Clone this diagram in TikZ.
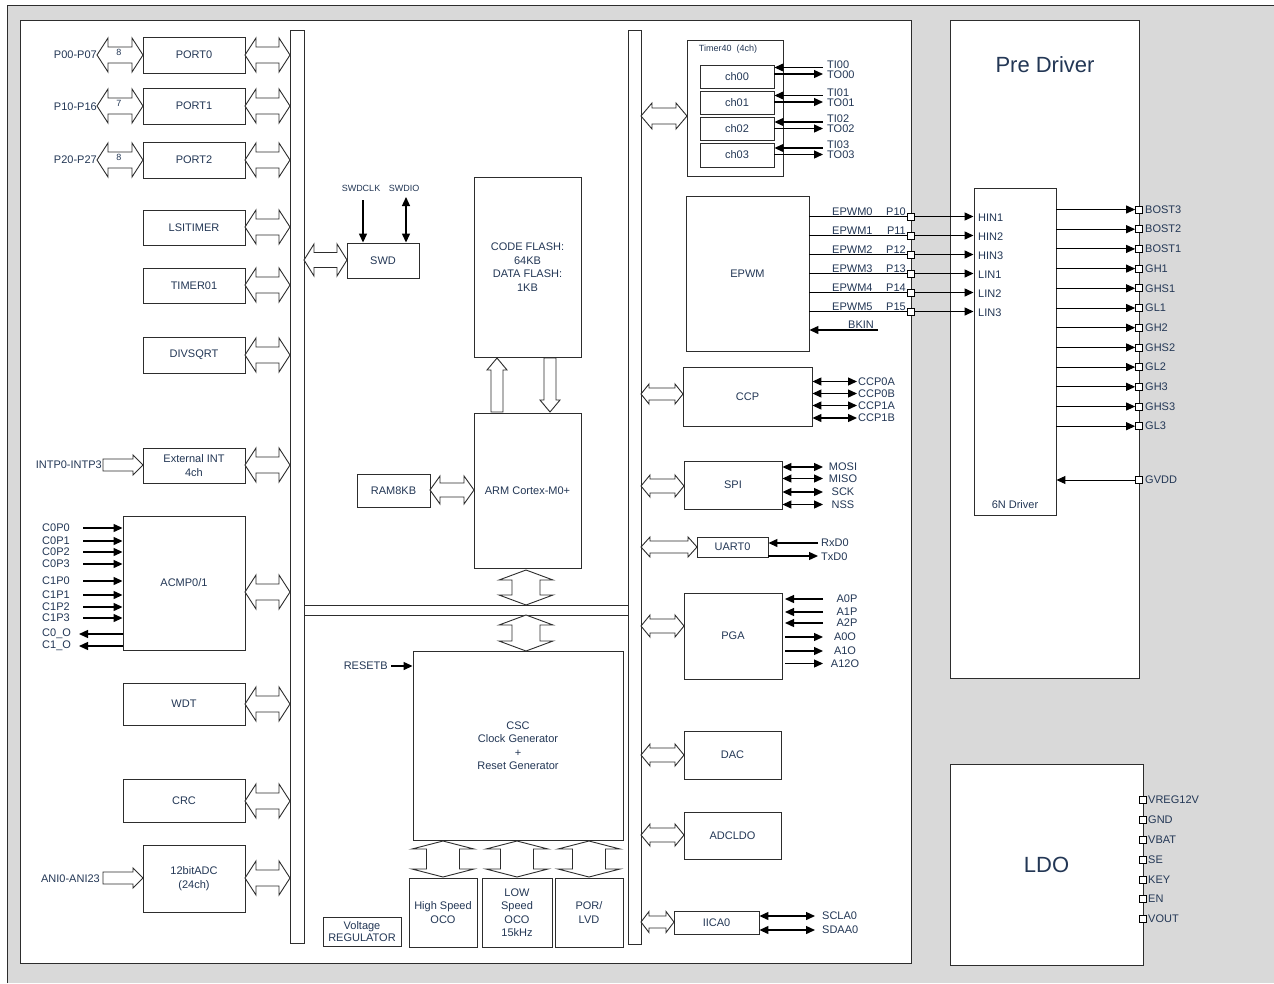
\documentclass[tikz,border=0pt]{standalone}
\usepackage{fontspec}
\setmainfont{Liberation Sans}
\usetikzlibrary{arrows.meta}
\definecolor{txt}{RGB}{35,55,85}
\definecolor{ln}{RGB}{45,45,45}
\definecolor{bgc}{RGB}{217,217,217}
\newcommand\fs[1]{\fontsize{#1}{#1}\selectfont}
\newcommand\bx[6]{\node[mbox,minimum width={(#4)-(#2)},minimum height={(#5)-(#3)}] (#1) at ({((#2)+(#4))/2},{((#3)+(#5))/2}) {#6};}
% horizontal double block arrow: x1 x2 y hh bh hl
\newcommand\hdbl[6]{\draw[blk] (#1,#3) -- ({(#1)+(#6)},{(#3)-(#4)}) -- ({(#1)+(#6)},{(#3)-(#5)}) -- ({(#2)-(#6)},{(#3)-(#5)}) -- ({(#2)-(#6)},{(#3)-(#4)}) -- (#2,#3) -- ({(#2)-(#6)},{(#3)+(#4)}) -- ({(#2)-(#6)},{(#3)+(#5)}) -- ({(#1)+(#6)},{(#3)+(#5)}) -- ({(#1)+(#6)},{(#3)+(#4)}) -- cycle;}
% vertical double block arrow: y1 y2 x hw bw hl
\newcommand\vdbl[6]{\draw[blk] (#3,#1) -- ({(#3)-(#4)},{(#1)+(#6)}) -- ({(#3)-(#5)},{(#1)+(#6)}) -- ({(#3)-(#5)},{(#2)-(#6)}) -- ({(#3)-(#4)},{(#2)-(#6)}) -- (#3,#2) -- ({(#3)+(#4)},{(#2)-(#6)}) -- ({(#3)+(#5)},{(#2)-(#6)}) -- ({(#3)+(#5)},{(#1)+(#6)}) -- ({(#3)+(#4)},{(#1)+(#6)}) -- cycle;}
% horizontal single block arrow (tail x1, tip x2): x1 x2 y hh bh hl
\newcommand\hsgl[6]{\draw[blk] (#1,{(#3)-(#5)}) -- ({(#2)-(#6)},{(#3)-(#5)}) -- ({(#2)-(#6)},{(#3)-(#4)}) -- (#2,#3) -- ({(#2)-(#6)},{(#3)+(#4)}) -- ({(#2)-(#6)},{(#3)+(#5)}) -- (#1,{(#3)+(#5)}) -- cycle;}
% vertical single block arrow: tail y1, tip y2, x, hw, bw, signed hl
\newcommand\vsgl[6]{\draw[blk] ({(#3)-(#5)},#1) -- ({(#3)-(#5)},{(#2)-(#6)}) -- ({(#3)-(#4)},{(#2)-(#6)}) -- (#3,#2) -- ({(#3)+(#4)},{(#2)-(#6)}) -- ({(#3)+(#5)},{(#2)-(#6)}) -- ({(#3)+(#5)},#1) -- cycle;}
\begin{document}
\begin{tikzpicture}[x=1pt,y=-1pt,
  >={Triangle[length=9pt,width=8pt]},
  mbox/.style={draw=ln,fill=white,line width=0.9pt,inner sep=0,align=center,text=txt,font=\fontsize{11}{13.5}\selectfont},
  blk/.style={draw=ln,fill=white,line width=0.9pt,line join=miter},
  lab/.style={text=txt,font=\fs{11},inner sep=0},
  slab/.style={text=txt,font=\fs{9},inner sep=0},
  sig/.style={draw=black,line width=1.3pt},
  tsig/.style={draw=black,line width=1pt},
  pinsq/.style={draw=black,fill=white,line width=0.7pt,minimum size=7pt,inner sep=0}]
\useasboundingbox (0,0) rectangle (1274,983);
% background
\fill[white] (0,0) rectangle (1274,983);
\fill[bgc] (7,5) rectangle (1274,983);
\draw[ln,line width=1pt] (7,983) -- (7,5) -- (1274,5);
% MCU frame
\node[mbox,minimum width=891,minimum height=943] (mcu) at (465.5,491.5) {};
% bus bars
\node[mbox,minimum width=14,minimum height=913] (lbar) at (297,486.5) {};
\node[mbox,minimum width=13,minimum height=914] (rbar) at (634.5,487) {};
\draw[ln,line width=0.9pt] (lbar.east |- 0,605) -- (rbar.west |- 0,605);
\draw[ln,line width=0.9pt] (lbar.east |- 0,615) -- (rbar.west |- 0,615);

% ---------- left column ----------
\bx{port0}{143}{37}{245}{73}{PORT0}
\bx{port1}{143}{88}{245}{124}{PORT1}
\bx{port2}{143}{142}{245}{178}{PORT2}
\bx{lsitimer}{143}{210}{245}{245}{LSITIMER}
\bx{timer01}{143}{268}{245}{303}{TIMER01}
\bx{divsqrt}{143}{337}{245}{373}{DIVSQRT}
\bx{extint}{143}{448}{245}{483}{External INT\\4ch}
\bx{acmp}{123}{516}{245}{650}{ACMP0/1}
\bx{wdt}{123}{683}{245}{725}{WDT}
\bx{crc}{123}{779}{245}{822}{CRC}
\bx{adc}{143}{845}{245}{912}{12bitADC\\(24ch)}
\foreach \y in {55,106,160,227,285,355,465,592,704,801,878} {\hdbl{245}{290}{\y}{17}{8}{11}}
% port pins
\hdbl{97}{143}{55}{17}{8}{11}
\hdbl{97}{143}{106}{17}{8}{11}
\hdbl{97}{143}{160}{17}{8}{11}
\node[slab] (n8a) at (119,52) {8};
\node[slab] (n7) at (119,103) {7};
\node[slab] (n8b) at (119,157) {8};
\node[lab,anchor=east] (p0) at (97,55) {P00-P07};
\node[lab,anchor=east] (p1) at (97,107) {P10-P16};
\node[lab,anchor=east] (p2) at (97,160) {P20-P27};
% external int / adc inputs
\hsgl{103}{143}{465}{10}{6}{10}
\node[lab,anchor=east] (intp) at (102,465) {INTP0-INTP3};
\hsgl{103}{143}{878}{10}{6}{10}
\node[lab,anchor=east] (ani) at (100,879) {ANI0-ANI23};
% ACMP pins
\foreach \t/\y in {C0P0/528,C0P1/541,C0P2/552,C0P3/564,C1P0/581,C1P1/595,C1P2/607,C1P3/618} {
  \node[lab,anchor=west] at (42,\y) {\t};
  \draw[sig,->] (83,\y) -- (acmp.west |- 0,\y);}
\foreach \t/\y in {C0\_O/634,C1\_O/646} {
  \node[lab,anchor=west] at (42,\y) {\t};
  \draw[sig,->] (acmp.west |- 0,\y) -- (79,\y);}

% ---------- core ----------
\bx{flash}{474}{177}{581}{357}{CODE FLASH:\\64KB\\DATA FLASH:\\1KB}
\bx{arm}{474}{413}{581}{568}{ARM Cortex-M0+}
\bx{ram}{357}{474}{430}{507}{RAM8KB}
\hdbl{430}{474}{490}{14}{7}{10}
\vsgl{412}{358}{497}{10}{6}{-12}
\vsgl{358}{412}{550}{10}{6}{12}
\bx{swd}{347}{243}{419}{278}{SWD}
\hdbl{304}{347}{260}{16}{7.5}{10}
\node[slab] (swdclk) at (361,188) {SWDCLK};
\node[slab] (swdio) at (404,188) {SWDIO};
\draw[sig,->] (363,200) -- (swd.north -| 363,0);
\draw[sig,<->] (406,197) -- (swd.north -| 406,0);
\vdbl{570}{605}{526}{27}{14}{10}
\vdbl{615}{651}{526}{27}{14}{10}
\bx{csc}{413}{651}{623}{840}{CSC\\Clock Generator\\+\\Reset Generator}
\node[lab,anchor=east] (resetb) at (388,666) {RESETB};
\draw[sig,->] (391,666) -- (csc.west |- 0,666);
\bx{hso}{409}{878}{477}{947}{High Speed\\OCO}
\bx{lso}{482}{878}{552}{947}{LOW\\Speed\\OCO\\15kHz}
\bx{por}{555}{878}{623}{947}{POR/\\LVD}
\vdbl{841}{877}{443}{31}{16.5}{8}
\vdbl{841}{877}{517}{31}{16.5}{8}
\vdbl{841}{877}{589}{31}{16.5}{8}
\node[mbox,minimum width=78,minimum height=29,font=\fontsize{11}{12}\selectfont] (vreg) at (362,931.5) {Voltage\\REGULATOR};

% ---------- right column ----------
\bx{t40}{687}{40}{783}{176}{}
\node[slab] (t40t) at (728,49) {Timer40\ \ (4ch)};
\bx{ch0}{700}{65}{774}{88}{ch00}
\bx{ch1}{700}{91}{774}{114}{ch01}
\bx{ch2}{700}{117}{774}{140}{ch02}
\bx{ch3}{700}{143}{774}{167}{ch03}
\hdbl{641}{687}{116}{13}{8}{11}
\foreach \k/\a/\b in {0/67.5/74,1/95.5/102,2/122/128.5,3/148/154.5} {
  \draw[sig,<-] (ch\k.east |- 0,\a) -- (823,\a);
  \draw[sig,->] (ch\k.east |- 0,\b) -- (823,\b);
  \node[lab,anchor=west] at (827,{\a-3}) {TI0\k};
  \node[lab,anchor=west] at (827,{\b+0.5}) {TO0\k};}
% EPWM
\bx{epwm}{686}{196}{809}{351}{EPWM}
% pre driver
\node[mbox,minimum width=189,minimum height=658] (pre) at (1044.5,349) {};
\node[text=txt,font=\fs{22},inner sep=0] (pret) at (1045,65) {Pre Driver};
\bx{drv}{974}{188}{1056}{515}{}
\node[lab] (drvt) at (1015,505) {6N Driver};
\foreach \k/\h in {0/HIN1,1/HIN2,2/HIN3,3/LIN1,4/LIN2,5/LIN3} {
  \pgfmathsetmacro\yy{216.5+19*\k}
  \node[pinsq] (pe\k) at (911,\yy) {};
  \draw[sig,->] (epwm.east |- pe\k) -- (drv.west |- pe\k);
  \node[pinsq] at (911,\yy) {};
  \node[lab,anchor=base west] at (832,{\yy-1.5}) {EPWM\k};
  \node[lab,anchor=base east] at (906,{\yy-1.5}) {P1\k};
  \node[lab,anchor=west] at (978,{\yy+1}) {\h};}
\node[lab,anchor=base] (bkin) at (861,328) {BKIN};
\draw[sig,->] (878,330) -- (epwm.east |- 0,330);
\foreach \k/\t in {0/BOST3,1/BOST2,2/BOST1,3/GH1,4/GHS1,5/GL1,6/GH2,7/GHS2,8/GL2,9/GH3,10/GHS3,11/GL3} {
  \pgfmathsetmacro\yy{209.5+19.7*\k}
  \node[pinsq] (po\k) at (1139,\yy) {};
  \draw[tsig,->] (drv.east |- po\k) -- (po\k.west);
  \node[lab,anchor=west] at (1145,\yy) {\t};}
\node[pinsq] (pgv) at (1139,480) {};
\draw[tsig,->] (pgv.west) -- (drv.east |- pgv);
\node[lab,anchor=west] at (1145,480) {GVDD};
% LDO
\node[mbox,minimum width=193,minimum height=201,font=\fs{22}] (ldo) at (1046.5,864.5) {LDO};
\foreach \t/\y in {VREG12V/800,GND/820,VBAT/840,SE/860,KEY/879.5,EN/899,VOUT/919} {
  \node[pinsq] at (1143,\y) {};
  \node[lab,anchor=west] at (1148,\y) {\t};}
% CCP
\bx{ccp}{683}{367}{812}{426}{CCP}
\hdbl{641}{683}{394}{10}{6}{8}
\foreach \t/\y in {CCP0A/381.5,CCP0B/393.5,CCP1A/405.5,CCP1B/418} {
  \draw[sig,<->] (ccp.east |- 0,\y) -- (857,\y);
  \node[lab,anchor=west] at (858,\y) {\t};}
% SPI
\bx{spi}{684}{461}{782}{509}{SPI}
\hdbl{641}{684}{486}{11}{7}{9}
\foreach \t/\y in {MOSI/467,MISO/478.5,SCK/492,NSS/504.5} {
  \draw[sig,<->] (spi.east |- 0,\y) -- (823,\y);
  \node[lab] at (843,\y) {\t};}
% UART
\bx{uart}{697}{537}{768}{557}{UART0}
\hdbl{641}{697}{547}{10}{6}{9}
\draw[sig,->] (818,543) -- (uart.east |- 0,543);
\draw[sig,->] (uart.east |- 0,556) -- (818,556);
\node[lab,anchor=west] at (821,543) {RxD0};
\node[lab,anchor=west] at (821,557) {TxD0};
% PGA
\bx{pga}{684}{593}{782}{679}{PGA}
\hdbl{641}{684}{626}{11}{7}{9}
\foreach \t/\y in {A0P/599,A1P/612,A2P/623} {
  \draw[sig,->] (823,\y) -- (785,\y);
  \node[lab] at (847,\y) {\t};}
\foreach \t/\y in {A0O/637,A1O/651,A12O/663.5} {
  \draw[sig,->] (785,\y) -- (823,\y);
  \node[lab] at (845,\y) {\t};}
% DAC, ADCLDO
\bx{dac}{684}{731}{781}{779}{DAC}
\hdbl{641}{684}{755}{11}{7}{9}
\bx{adcldo}{684}{812}{781}{859}{ADCLDO}
\hdbl{641}{684}{835}{11}{7}{9}
% IICA0
\bx{iic}{674}{911}{759}{934}{IICA0}
\hdbl{641}{674}{922}{10.5}{6}{8}
\foreach \t/\y in {SCLA0/916,SDAA0/930} {
  \draw[sig,<->] (iic.east |- 0,\y) -- (815,\y);
  \node[lab,anchor=west] at (822,\y) {\t};}
\end{tikzpicture}
\end{document}
